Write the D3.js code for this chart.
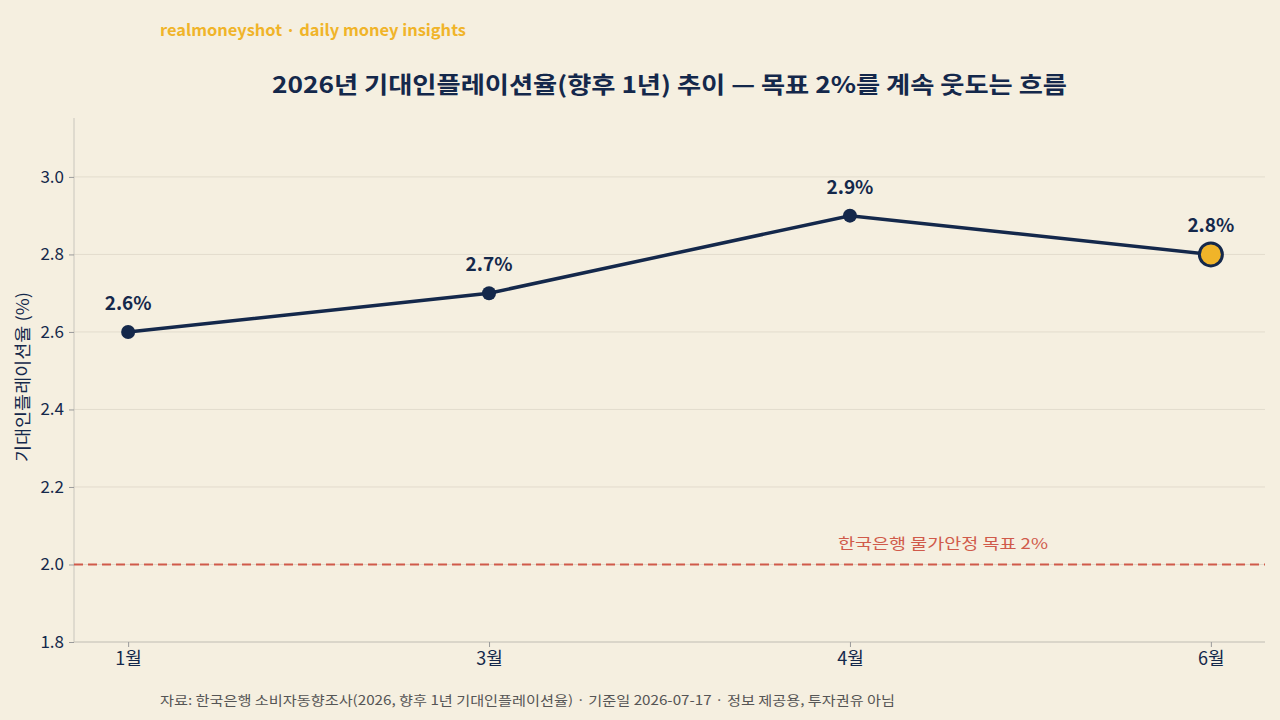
<!DOCTYPE html>
<html>
<head>
<meta charset="utf-8">
<script src="https://cdn.jsdelivr.net/npm/d3@7"></script>
<style>
  body { margin: 0; background: #f5efe0; }
  svg { display: block; font-family: "Noto Sans CJK KR", "Noto Sans", sans-serif; }
</style>
</head>
<body>
<svg id="chart" width="1280" height="720"></svg>
<script>
    // data
    var months = ["1월", "3월", "4월", "6월"];
    var values = [2.6, 2.7, 2.9, 2.8];
    var yTicks = [1.8, 2.0, 2.2, 2.4, 2.6, 2.8, 3.0];
    var target = 2.0;

    var navy = "#14284b", gold = "#f0b429", red = "#d05a4a";
    var W = 1280, H = 720;
    var m = {left: 74, right: 15, top: 118, bottom: 78};

    var svg = d3.select("#chart");
    svg.append("rect").attr("width", W).attr("height", H).attr("fill", "#f5efe0");

    var x = d3.scalePoint()
        .domain(months)
        .range([m.left, W - m.right])
        .padding(0.15);

    var y = d3.scaleLinear()
        .domain([1.8, 3.152])
        .range([H - m.bottom, m.top]);

    // grid
    svg.append("g").selectAll("line")
        .data(yTicks)
        .enter().append("line")
        .attr("x1", m.left).attr("x2", W - m.right)
        .attr("y1", d => y(d)).attr("y2", d => y(d))
        .attr("stroke", "#e2dccd").attr("stroke-width", 1);

    // axes
    var yAxis = svg.append("g")
        .attr("transform", "translate(" + m.left + ",0)")
        .call(d3.axisLeft(y).tickValues(yTicks).tickFormat(d3.format(".1f")).tickSize(5).tickPadding(5));
    var xAxis = svg.append("g")
        .attr("transform", "translate(0," + (H - m.bottom) + ")")
        .call(d3.axisBottom(x).tickSize(5).tickPadding(5));

    [yAxis, xAxis].forEach(function (a) {
        a.select(".domain").attr("stroke", "#c9c6bd");
        a.selectAll(".tick line").attr("stroke", "#9a9a9a");
        a.selectAll("text").attr("fill", navy).attr("font-size", "17px")
            .attr("font-family", "'Noto Sans CJK KR', sans-serif");
    });
    xAxis.selectAll("text").attr("font-size", "18px");
    yAxis.select(".domain").attr("d", "M0," + m.top + "V" + (H - m.bottom));
    xAxis.select(".domain").attr("d", "M" + m.left + ",0H" + (W - m.right));

    // target line
    svg.append("line")
        .attr("x1", m.left).attr("x2", W - m.right)
        .attr("y1", y(target)).attr("y2", y(target))
        .attr("stroke", red).attr("stroke-width", 2.2)
        .attr("stroke-dasharray", "9,5");
    svg.append("text")
        .attr("x", x("4월") - 12).attr("y", y(target) - 15)
        .attr("fill", red).attr("font-size", "15px")
        .attr("textLength", 210).attr("lengthAdjust", "spacingAndGlyphs")
        .text("한국은행 물가안정 목표 2%");

    // line
    var line = d3.line()
        .x((d, i) => x(months[i]))
        .y(d => y(d));
    svg.append("path")
        .datum(values)
        .attr("fill", "none")
        .attr("stroke", navy)
        .attr("stroke-width", 3.5)
        .attr("d", line);

    var last = values.length - 1;
    svg.append("g").selectAll("circle")
        .data(values)
        .enter().append("circle")
        .attr("cx", (d, i) => x(months[i]))
        .attr("cy", d => y(d))
        .attr("r", (d, i) => i == last ? 11.5 : 7)
        .attr("fill", (d, i) => i == last ? gold : navy)
        .attr("stroke", navy)
        .attr("stroke-width", (d, i) => i == last ? 3 : 0);

    svg.append("g").selectAll("text")
        .data(values)
        .enter().append("text")
        .attr("x", (d, i) => x(months[i]))
        .attr("y", d => y(d) - 22)
        .attr("text-anchor", "middle")
        .attr("fill", navy)
        .attr("font-size", "19px")
        .attr("font-weight", "bold")
        .text(d => d.toFixed(1) + "%");

    // y label
    svg.append("text")
        .attr("transform", "translate(29," + 377 + ") rotate(-90)")
        .attr("text-anchor", "middle")
        .attr("fill", navy)
        .attr("font-size", "17px")
        .attr("textLength", 170).attr("lengthAdjust", "spacingAndGlyphs")
        .text("기대인플레이션율 (%)");

    // title & brand
    svg.append("text")
        .attr("x", 160).attr("y", 36)
        .attr("fill", gold).attr("font-size", "16px").attr("font-weight", "bold")
        .attr("textLength", 306).attr("lengthAdjust", "spacingAndGlyphs")
        .text("realmoneyshot · daily money insights");
    svg.append("text")
        .attr("x", 272).attr("y", 93)
        .attr("fill", navy).attr("font-size", "23px").attr("font-weight", "bold")
        .attr("textLength", 795).attr("lengthAdjust", "spacingAndGlyphs")
        .text("2026년 기대인플레이션율(향후 1년) 추이 — 목표 2%를 계속 웃도는 흐름");

    // footer
    svg.append("text")
        .attr("x", 160).attr("y", 705)
        .attr("fill", "#555555").attr("font-size", "13px")
        .attr("textLength", 735).attr("lengthAdjust", "spacingAndGlyphs")
        .text("자료: 한국은행 소비자동향조사(2026, 향후 1년 기대인플레이션율) · 기준일 2026-07-17 · 정보 제공용, 투자권유 아님");
</script>
</body>
</html>
